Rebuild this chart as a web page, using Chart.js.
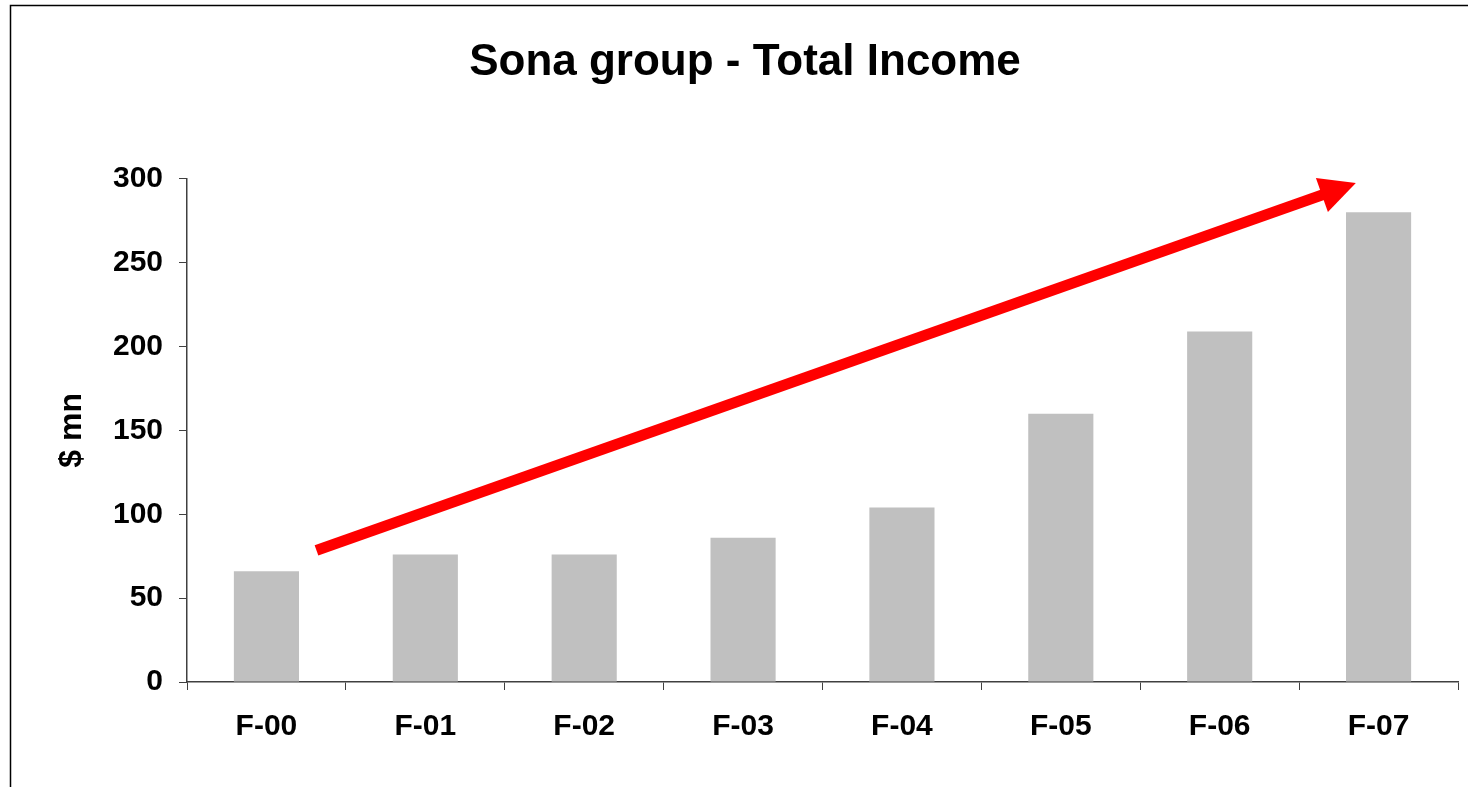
<!DOCTYPE html>
<html>
<head>
<meta charset="utf-8">
<title>Sona group - Total Income</title>
<script src="https://cdn.jsdelivr.net/npm/chart.js@4/dist/chart.umd.min.js"></script>
<style>
  html, body { margin: 0; padding: 0; background: #fff; }
  canvas { display: block; }
</style>
</head>
<body>
<canvas id="chart" width="1468" height="787"></canvas>
<script>
// data
const categories = ["F-00", "F-01", "F-02", "F-03", "F-04", "F-05", "F-06", "F-07"];
const totalIncome = [66, 76, 76, 86, 104, 160, 209, 280];
const yTicks = [0, 50, 100, 150, 200, 250, 300];

// trend arrow, in chart units (category index, $ mn)
const arrowFrom = [0.315, 78.5];
const arrowTo = [6.857, 297.5];

const FONT = "'Liberation Sans', Arial, sans-serif";

// black frame round the chart (left and top edges show)
const framePlugin = {
  id: "frame",
  beforeDraw(chart) {
    const ctx = chart.ctx;
    ctx.save();
    ctx.fillStyle = "#fff";
    ctx.fillRect(0, 0, chart.width, chart.height);
    ctx.strokeStyle = "#000";
    ctx.lineWidth = 1.5;
    ctx.strokeRect(10.5, 5.5, chart.width + 20, chart.height + 20);
    ctx.restore();
  }
};

// red arrow drawn over the bars
const arrowPlugin = {
  id: "trendArrow",
  afterDatasetsDraw(chart) {
    const x = chart.scales.x, y = chart.scales.y;
    const x0 = x.getPixelForValue(arrowFrom[0]), y0 = y.getPixelForValue(arrowFrom[1]);
    const x1 = x.getPixelForValue(arrowTo[0]), y1 = y.getPixelForValue(arrowTo[1]);
    const ang = Math.atan2(y1 - y0, x1 - x0);
    const headLen = 36, headHalf = 18;
    const bx = x1 - headLen * Math.cos(ang), by = y1 - headLen * Math.sin(ang);
    const ctx = chart.ctx;
    ctx.save();
    ctx.strokeStyle = "#ff0000";
    ctx.fillStyle = "#ff0000";
    ctx.lineWidth = 11;
    ctx.lineCap = "butt";
    ctx.beginPath();
    ctx.moveTo(x0, y0);
    ctx.lineTo(bx + 2 * Math.cos(ang), by + 2 * Math.sin(ang));
    ctx.stroke();
    ctx.beginPath();
    ctx.moveTo(x1, y1);
    ctx.lineTo(bx + headHalf * Math.sin(ang), by - headHalf * Math.cos(ang));
    ctx.lineTo(bx - headHalf * Math.sin(ang), by + headHalf * Math.cos(ang));
    ctx.closePath();
    ctx.fill();
    ctx.restore();
  }
};

const ctx = document.getElementById("chart").getContext("2d");
const chart = new Chart(ctx, {
  type: "bar",
  data: {
    labels: categories,
    datasets: [{
      label: "Total Income",
      data: totalIncome,
      backgroundColor: "#c0c0c0",
      borderWidth: 0,
      barPercentage: 0.41,
      categoryPercentage: 1.0
    }]
  },
  options: {
    responsive: false,
    animation: false,
    layout: { padding: { left: 32, right: 10, top: 0, bottom: 0 } },
    plugins: {
      legend: { display: false },
      tooltip: { enabled: false },
      title: {
        display: true,
        text: "Sona group - Total Income",
        color: "#000",
        font: { family: FONT, size: 44, weight: "bold", lineHeight: 1.2 },
        padding: { top: 36, bottom: 90 }
      }
    },
    scales: {
      x: {
        grid: { display: true, drawOnChartArea: false, drawTicks: true, tickLength: 8, color: "#404040", offset: true },
        border: { display: true, color: "#404040", width: 1.5 },
        ticks: { color: "#000", padding: 19, font: { family: FONT, size: 30, weight: "bold" }, maxRotation: 0 },
        afterFit(scale) { scale.height = 105; }
      },
      y: {
        min: 0,
        max: 300,
        afterBuildTicks(scale) { scale.ticks = yTicks.map(v => ({ value: v })); },
        grid: { display: true, drawOnChartArea: false, drawTicks: true, tickLength: 8, color: "#404040" },
        border: { display: true, color: "#404040", width: 1.5 },
        ticks: { color: "#000", padding: 16, font: { family: FONT, size: 30, weight: "bold" } },
        title: {
          display: true,
          text: "$ mn",
          color: "#000",
          font: { family: FONT, size: 32, weight: "bold", lineHeight: 1.2 },
          padding: { top: 21, bottom: 0 }
        },
        afterFit(scale) { scale.width = 155; }
      }
    }
  },
  plugins: [framePlugin, arrowPlugin]
});
</script>
</body>
</html>
